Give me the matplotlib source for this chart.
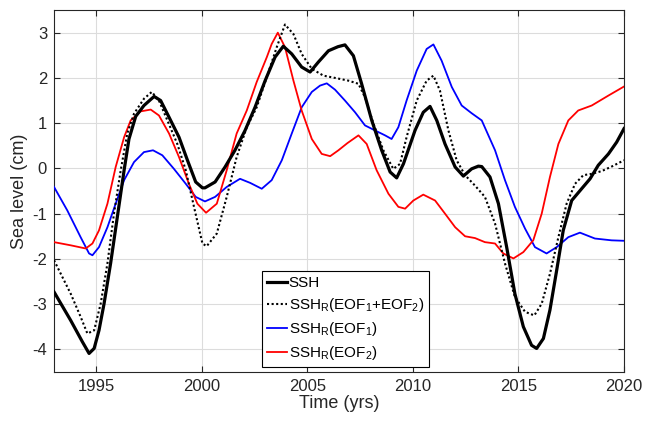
import matplotlib
matplotlib.use('agg')
import matplotlib.pyplot as plt
import numpy as np

plt.rcParams['font.family'] = ['Liberation Sans', 'DejaVu Sans']
plt.rcParams['mathtext.fontset'] = 'custom'
plt.rcParams['mathtext.rm'] = 'Liberation Sans'
plt.rcParams['mathtext.it'] = 'Liberation Sans'
plt.rcParams['axes.unicode_minus'] = False

# SSH (thick black)
ssh_t = [1993.0, 1993.79, 1994.34, 1994.66, 1994.9, 1995.13, 1995.37, 1995.68, 1996.0, 1996.32,
         1996.55, 1996.87, 1997.26, 1997.74, 1998.05, 1998.45, 1998.92, 1999.32, 1999.71, 2000.03,
         2000.15, 2000.63, 2001.1, 2001.57, 2002.05, 2002.52, 2003.0, 2003.47, 2003.86, 2004.26,
         2004.73, 2005.13, 2005.52, 2006.0, 2006.45, 2006.78, 2007.18, 2007.57, 2008.05, 2008.52,
         2008.92, 2009.23, 2009.55, 2010.1, 2010.49, 2010.81, 2011.13, 2011.52, 2012.0, 2012.39,
         2012.78, 2013.1, 2013.26, 2013.65, 2014.05, 2014.44, 2014.83, 2015.23, 2015.62, 2015.86,
         2016.18, 2016.49, 2016.81, 2017.12, 2017.52, 2017.99, 2018.39, 2018.78, 2019.26, 2019.65,
         2020.0]
ssh_v = [-2.73, -3.36, -3.83, -4.09, -3.98, -3.58, -2.99, -2.1, -1.07, -0.04,
         0.65, 1.15, 1.39, 1.59, 1.5, 1.13, 0.69, 0.18, -0.3, -0.43,
         -0.43, -0.3, 0.03, 0.4, 0.84, 1.35, 1.94, 2.46, 2.7, 2.53,
         2.24, 2.13, 2.35, 2.6, 2.69, 2.73, 2.49, 1.87, 1.06, 0.4,
         -0.08, -0.21, 0.1, 0.84, 1.24, 1.37, 1.06, 0.54, 0.03, -0.17,
         -0.01, 0.05, 0.04, -0.19, -0.78, -1.74, -2.77, -3.5, -3.91, -3.98,
         -3.76, -3.13, -2.25, -1.37, -0.71, -0.45, -0.23, 0.07, 0.32, 0.58,
         0.88]

# SSH_R(EOF1+EOF2) (dotted black)
both_t = [1993.0, 1993.79, 1994.26, 1994.58, 1994.9, 1995.21, 1995.53, 1995.84, 1996.16, 1996.47,
          1996.79, 1997.26, 1997.63, 1997.97, 1998.37, 1998.84, 1999.24, 1999.63, 2000.03, 2000.23,
          2000.71, 2001.18, 2001.65, 2002.13, 2002.6, 2003.08, 2003.55, 2003.94, 2004.34, 2004.73,
          2005.21, 2005.76, 2006.31, 2006.94, 2007.42, 2007.73, 2008.13, 2008.6, 2009.07, 2009.39,
          2009.7, 2010.18, 2010.65, 2010.97, 2011.28, 2011.68, 2012.07, 2012.47, 2012.94, 2013.41,
          2013.89, 2014.36, 2014.83, 2015.31, 2015.75, 2016.1, 2016.49, 2016.89, 2017.28, 2017.68,
          2018.07, 2018.47, 2018.94, 2019.41, 2020.0]
both_v = [-2.03, -2.77, -3.28, -3.65, -3.58, -2.99, -2.1, -1.0, -0.04, 0.77,
          1.21, 1.54, 1.69, 1.5, 1.06, 0.54, -0.04, -0.85, -1.66, -1.72,
          -1.44, -0.63, 0.25, 0.91, 1.35, 2.02, 2.68, 3.18, 2.97, 2.53,
          2.2, 2.05, 2.0, 1.94, 1.87, 1.57, 0.99, 0.4, -0.01, 0.1,
          0.69, 1.5, 1.94, 2.05, 1.72, 0.84, 0.18, -0.15, -0.38, -0.63,
          -1.22, -2.1, -2.84, -3.17, -3.25, -2.99, -2.33, -1.52, -0.78, -0.34,
          -0.15, -0.12, -0.06, 0.04, 0.18]

# SSH_R(EOF1) (blue)
eof1_t = [1993.0, 1993.63, 1994.26, 1994.66, 1994.82, 1995.13, 1995.53, 1995.92, 1996.32, 1996.79,
          1997.26, 1997.69, 1998.13, 1998.68, 1999.24, 1999.71, 2000.15, 2000.63, 2001.18, 2001.81,
          2002.29, 2002.84, 2003.31, 2003.79, 2004.26, 2004.73, 2005.21, 2005.6, 2005.92, 2006.31,
          2006.78, 2007.26, 2007.73, 2008.2, 2008.68, 2008.99, 2009.31, 2009.7, 2010.18, 2010.65,
          2010.97, 2011.36, 2011.84, 2012.31, 2012.78, 2013.26, 2013.89, 2014.36, 2014.83, 2015.31,
          2015.78, 2016.33, 2016.81, 2017.36, 2017.91, 2018.62, 2019.41, 2020.0]
eof1_v = [-0.41, -0.93, -1.52, -1.88, -1.92, -1.74, -1.3, -0.78, -0.26, 0.14,
          0.36, 0.4, 0.29, -0.01, -0.34, -0.63, -0.73, -0.63, -0.41, -0.23,
          -0.32, -0.45, -0.26, 0.18, 0.77, 1.35, 1.69, 1.83, 1.88, 1.74,
          1.5, 1.24, 0.95, 0.84, 0.73, 0.65, 0.91, 1.5, 2.16, 2.64,
          2.74, 2.38, 1.8, 1.39, 1.22, 1.06, 0.4, -0.26, -0.85, -1.33,
          -1.74, -1.88, -1.74, -1.52, -1.42, -1.55, -1.59, -1.6]

# SSH_R(EOF2) (red)
eof2_t = [1993.0, 1993.79, 1994.5, 1994.82, 1995.13, 1995.53, 1995.92, 1996.32, 1996.63, 1997.1,
          1997.58, 1997.97, 1998.45, 1998.92, 1999.39, 1999.79, 2000.2, 2000.71, 2001.18, 2001.65,
          2002.13, 2002.6, 2003.08, 2003.31, 2003.6, 2003.94, 2004.34, 2004.73, 2005.21, 2005.68,
          2006.08, 2006.47, 2006.9, 2007.42, 2007.81, 2008.28, 2008.84, 2009.31, 2009.63, 2010.02,
          2010.49, 2011.05, 2011.52, 2012.0, 2012.47, 2012.94, 2013.41, 2013.89, 2014.28, 2014.76,
          2015.23, 2015.7, 2016.1, 2016.49, 2016.89, 2017.36, 2017.83, 2018.47, 2019.26, 2020.0]
eof2_v = [-1.63, -1.7, -1.77, -1.66, -1.37, -0.78, 0.03, 0.69, 1.06, 1.26,
          1.3, 1.17, 0.77, 0.25, -0.34, -0.78, -0.98, -0.78, -0.04, 0.77,
          1.28, 1.91, 2.46, 2.75, 3.0, 2.68, 1.94, 1.28, 0.65, 0.32,
          0.27, 0.4, 0.56, 0.73, 0.54, -0.04, -0.56, -0.85, -0.89, -0.71,
          -0.58, -0.71, -1.0, -1.3, -1.5, -1.54, -1.63, -1.66, -1.88, -1.99,
          -1.85, -1.59, -1.0, -0.19, 0.54, 1.06, 1.28, 1.39, 1.61, 1.81]

fig = plt.figure(figsize=(6.54, 4.22), dpi=100)
ax = fig.add_axes([0.0826, 0.1185, 0.8716, 0.8577])

ax.plot(ssh_t, ssh_v, color='black', lw=2.3, label='SSH', zorder=4, solid_joinstyle='round')
ax.plot(both_t, both_v, color='black', lw=1.5, ls=(0, (1, 1.2)),
        label=r'SSH$_\mathrm{R}$(EOF$_1$+EOF$_2$)', zorder=5)
ax.plot(eof1_t, eof1_v, color='#0000ff', lw=1.3, label=r'SSH$_\mathrm{R}$(EOF$_1$)',
        zorder=3, solid_joinstyle='round')
ax.plot(eof2_t, eof2_v, color='#ff0000', lw=1.3, label=r'SSH$_\mathrm{R}$(EOF$_2$)',
        zorder=3, solid_joinstyle='round')

ax.set_xlim(1993, 2020)
ax.set_ylim(-4.5, 3.5)
ax.set_xticks([1995, 2000, 2005, 2010, 2015, 2020])
ax.set_yticks(range(-4, 4))
ax.grid(True, color='#dcdcdc', lw=0.8)
ax.set_axisbelow(True)
ax.tick_params(direction='in', top=True, right=True, labelsize=12, length=4, color='#262626',
               labelcolor='#262626', pad=5)
for s in ax.spines.values():
    s.set_color('#262626')
    s.set_linewidth(0.8)

ax.set_xlabel('Time (yrs)', fontsize=13, color='#262626', labelpad=1)
ax.set_ylabel('Sea level (cm)', fontsize=13, color='#262626', labelpad=3)

leg = ax.legend(loc='lower left', bbox_to_anchor=(0.365, 0.014), fontsize=11,
                handlelength=1.3, handletextpad=0.15, borderpad=0.3, labelspacing=0.4,
                fancybox=False, framealpha=1, edgecolor='black', borderaxespad=0)
leg.get_frame().set_linewidth(0.8)

fig.savefig('out.png', dpi=100)
